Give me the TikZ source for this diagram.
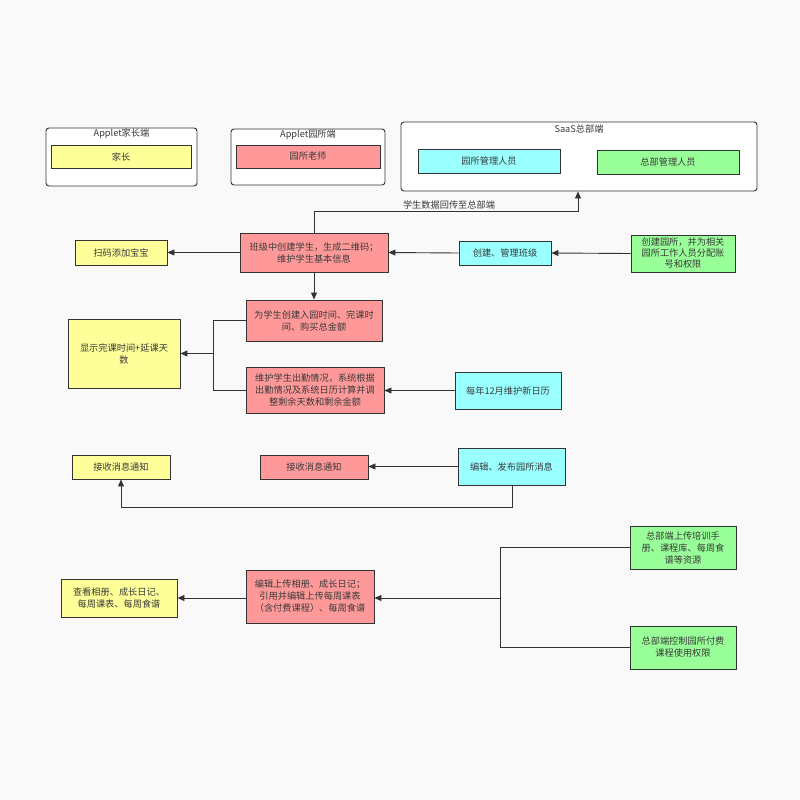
\documentclass[tikz,border=0pt]{standalone}
\usepackage{fontspec}
\setmainfont{Noto Sans CJK SC}
\usetikzlibrary{arrows.meta}
\definecolor{bg}{HTML}{F9F9F9}
\definecolor{ln}{HTML}{333333}
\definecolor{tx}{HTML}{3A3A3A}
\definecolor{cy}{HTML}{FFFF99}
\definecolor{cp}{HTML}{FF9999}
\definecolor{cc}{HTML}{99FFFF}
\definecolor{cg}{HTML}{99FF99}
\tikzset{
  box/.style={draw=ln, line width=0.9pt, inner sep=1pt, align=center, text=tx, font=\fontsize{9.2}{12}\selectfont},
  grp/.style={draw=ln, line width=0.9pt, rounded corners=3pt, fill=white, inner sep=0pt},
  ttl/.style={text=tx, font=\fontsize{9.2}{12}\selectfont, inner sep=0pt},
  arr/.style={draw=ln, line width=0.9pt, -{Triangle[length=7pt,width=6pt]}},
  ln2/.style={draw=ln, line width=0.9pt},
}
\begin{document}
\begin{tikzpicture}[x=1pt,y=-1pt]
\fill[bg] (0,0) rectangle (800,800);
\useasboundingbox (0,0) rectangle (800,800);
% groups
\node[grp, minimum width=151pt, minimum height=58pt] (g1) at (121.5,157) {};
\node[ttl] (t1) at (121.5,134) {Applet家长端};
\node[box, fill=cy, minimum width=140pt, minimum height=23pt] (p1) at (121,156.5) {家长};
\node[grp, minimum width=154pt, minimum height=56pt] (g2) at (308,157) {};
\node[ttl] (t2) at (308,135) {Applet园所端};
\node[box, fill=cp, minimum width=144pt, minimum height=23pt] (p2) at (308,156.5) {园所老师};
\node[grp, minimum width=356pt, minimum height=69pt] (g3) at (579,156.5) {};
\node[ttl] (t3) at (579,129) {SaaS总部端};
\node[box, fill=cc, minimum width=142pt, minimum height=24pt] (c1) at (489,161) {园所管理人员};
\node[box, fill=cg, minimum width=142pt, minimum height=24pt] (c2) at (668,162) {总部管理人员};
% row 1
\node[box, fill=cp, minimum width=148pt, minimum height=39pt] (class) at (314,252.5) {班级中创建学生，生成二维码；\\维护学生基本信息};
\node[box, fill=cy, minimum width=92pt, minimum height=25pt] (scan) at (121,252.5) {扫码添加宝宝};
\node[box, fill=cc, minimum width=92pt, minimum height=24pt] (manage) at (505,253) {创建、管理班级};
\node[box, fill=cg, minimum width=104pt, minimum height=37pt, font=\fontsize{9.2}{11}\selectfont] (create) at (683,253.5) {创建园所，并为相关\\园所工作人员分配账\\号和权限};
% row 2
\node[box, fill=cp, minimum width=136pt, minimum height=41pt] (time) at (314,320.5) {为学生创建入园时间、完课时\\间、购买总金额};
\node[box, fill=cp, minimum width=138pt, minimum height=46pt] (attend) at (315,390) {维护学生出勤情况，系统根据\\出勤情况及系统日历计算并调\\整剩余天数和剩余金额};
\node[box, fill=cy, minimum width=112pt, minimum height=69pt] (show) at (124,353.5) {显示完课时间+延课天\\数};
\node[box, fill=cc, minimum width=106pt, minimum height=37pt] (cal) at (508,390.5) {每年12月维护新日历};
% row 3
\node[box, fill=cy, minimum width=98pt, minimum height=24pt] (recvY) at (121,467) {接收消息通知};
\node[box, fill=cp, minimum width=108pt, minimum height=24pt] (recvP) at (314,467) {接收消息通知};
\node[box, fill=cc, minimum width=107pt, minimum height=37pt] (pub) at (511.5,466.5) {编辑、发布园所消息};
% row 4
\node[box, fill=cy, minimum width=116pt, minimum height=38pt] (view) at (119,598) {查看相册、成长日记、\\每周课表、每周食谱};
\node[box, fill=cp, minimum width=128pt, minimum height=53pt] (edit) at (310,596.5) {编辑上传相册、成长日记；\\引用并编辑上传每周课表\\（含付费课程）、每周食谱};
\node[box, fill=cg, minimum width=106pt, minimum height=43pt] (up) at (683,547.5) {总部端上传培训手\\册、课程库、每周食\\谱等资源};
\node[box, fill=cg, minimum width=106pt, minimum height=43pt] (ctrl) at (683,647.5) {总部端控制园所付费\\课程使用权限};
% connectors
\coordinate (j1) at (314,211);
\coordinate (j2) at (578,211);
\draw[arr] (class.north) -- (j1) -- (j2) -- (j2 |- g3.south);
\node[ttl] (lbl) at (449,204.5) {学生数据回传至总部端};
\draw[arr] (class.west) -- (scan.east);
\draw[arr] (manage.west) -- (class.east);
\draw[arr] (create.west) -- (manage.east);
\draw[arr] (class.south) -- (time.north);
\coordinate (m1) at (213,353.5);
\draw[ln2] (time.west) -| (m1);
\draw[ln2] (attend.west) -| (m1);
\draw[arr] (m1) -- (show.east);
\draw[arr] (cal.west) -- (cal.west -| attend.east);
\draw[arr] (pub.west) -- (pub.west -| recvP.east);
\coordinate (b1) at (512,507);
\coordinate (b2) at (121,507);
\draw[arr] (pub.south -| b1) -- (b1) -- (b2) -- (recvY.south);
\coordinate (m2) at (500,598);
\draw[ln2] (up.west) -| (m2);
\draw[ln2] (ctrl.west) -| (m2);
\draw[arr] (m2) -- (m2 -| edit.east);
\draw[arr] (edit.west |- view.east) -- (view.east);
\end{tikzpicture}
\end{document}
